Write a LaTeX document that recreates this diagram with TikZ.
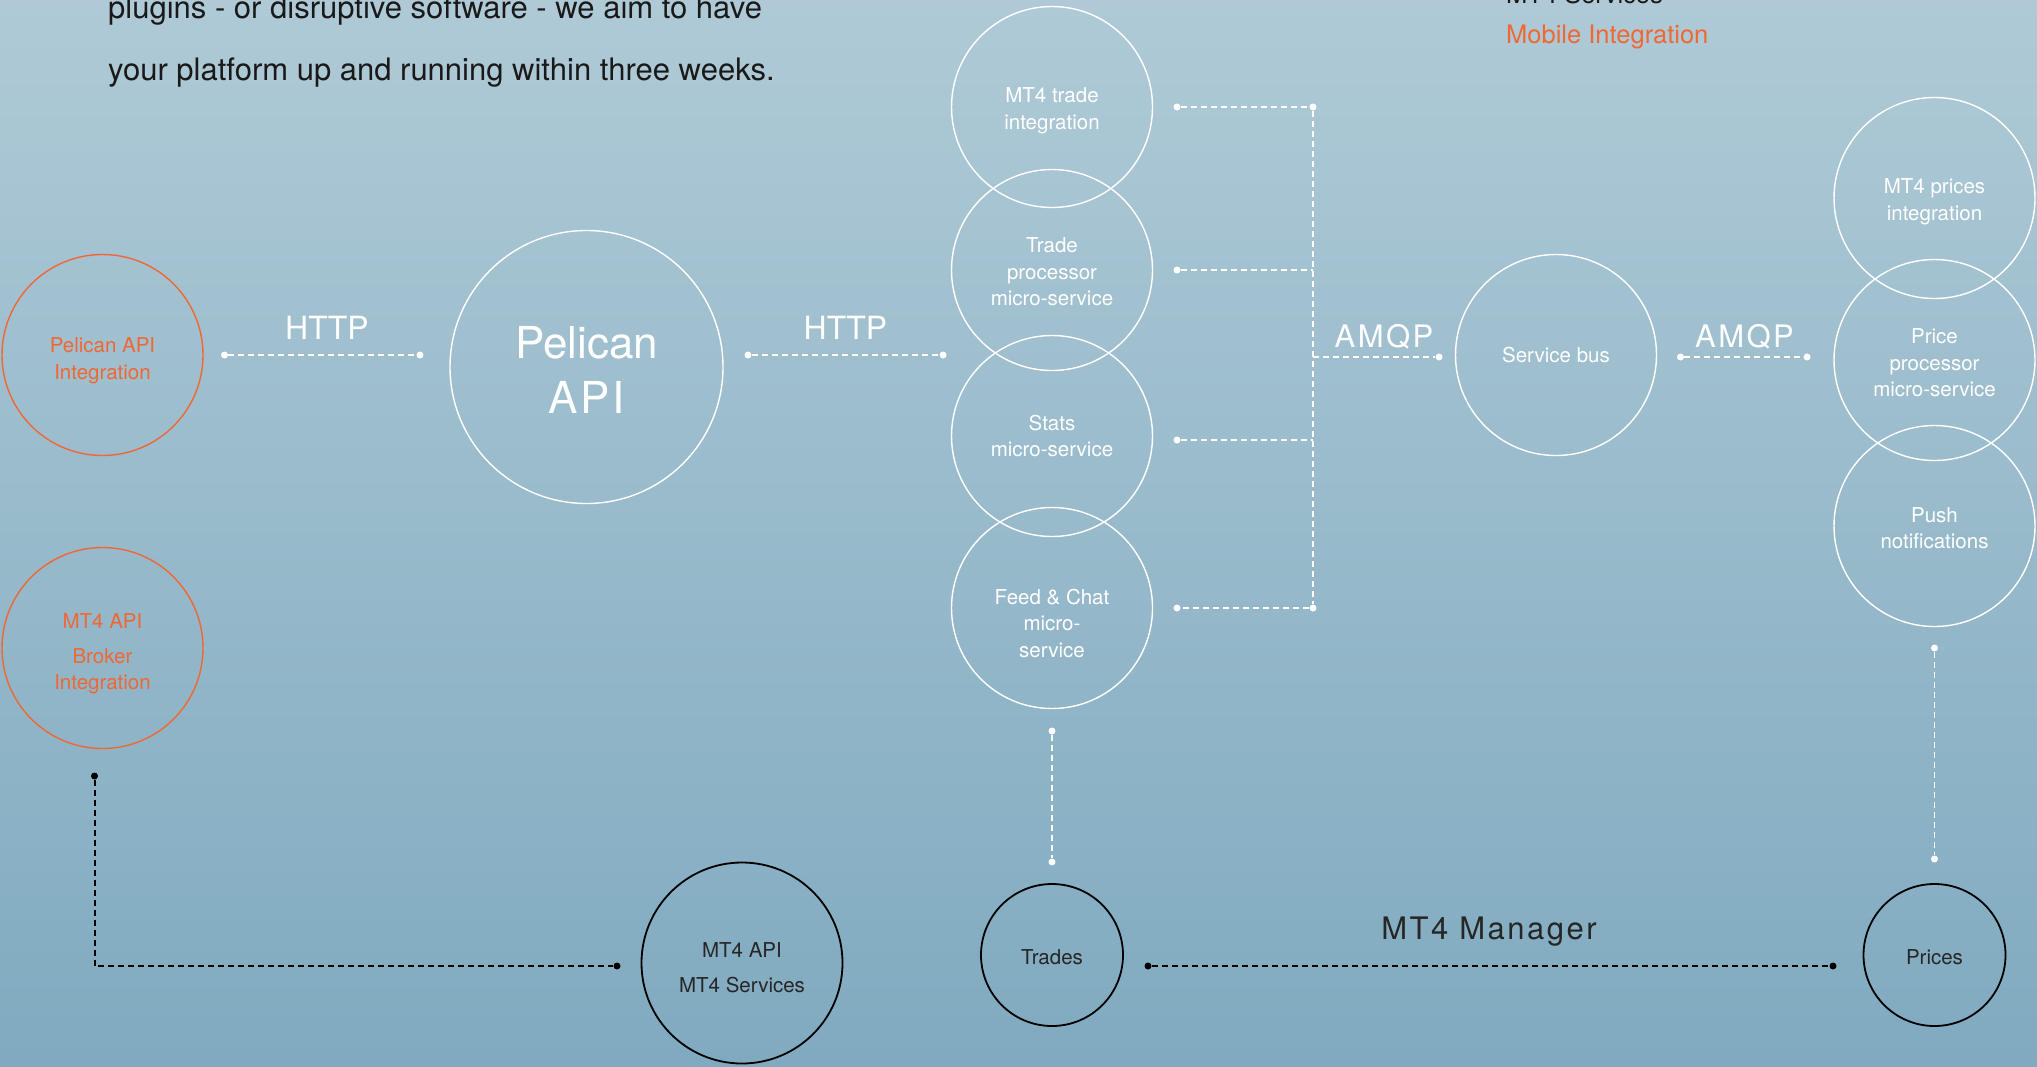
\documentclass[tikz,border=0pt]{standalone}
\usepackage{fontspec}
\setmainfont{TeX Gyre Heros}
\usepackage{tikz}
\usetikzlibrary{positioning}
\definecolor{bgtop}{RGB}{175,202,214}
\definecolor{bgbot}{RGB}{128,170,192}
\definecolor{pelorange}{RGB}{241,103,52}

\begin{document}
\begin{tikzpicture}[x=1pt,y=-1pt,
  svc/.style={circle,draw=white,line width=1.4pt,minimum size=201pt,inner sep=0pt,text=white,align=center,font=\fontsize{20.5}{26.5}\selectfont},
  ext/.style={svc,draw=pelorange,text=pelorange},
  mtf/.style={svc,draw=black,text=black!85,line width=1.8pt},
  svctxt/.style={inner sep=0pt,text=white,align=center,font=\fontsize{20.5}{26.5}\selectfont},
  wdot/.style={circle,fill=white,inner sep=0pt,minimum size=7pt},
  bdot/.style={circle,fill=black,inner sep=0pt,minimum size=7pt},
  wlink/.style={white,line width=1.4pt,dash pattern=on 6pt off 4pt},
  blink/.style={black,line width=2pt,dash pattern=on 6pt off 4pt},
  proto/.style={white,anchor=base,inner sep=0pt,font=\fontsize{31}{31}\selectfont\addfontfeature{LetterSpace=8}},
  blurb/.style={anchor=base west,inner sep=0pt,text=black!90,font=\fontsize{31}{31}\selectfont}
]
\shade[top color=bgtop,bottom color=bgbot] (0,0) rectangle (2037,1066);
\useasboundingbox (0,0) rectangle (2037,1066);

\node[blurb] (blurbtop) at (108,18) {plugins - or disruptive software - we aim to have};
\node[blurb] (blurbbot) at (108,80) {your platform up and running within three weeks.};
\node[blurb,font=\fontsize{25.5}{30}\selectfont] (mtsvc) at (1506,3) {MT4 Services};
\node[blurb,text=pelorange,font=\fontsize{25.5}{30}\selectfont] (mobint) at (1506,43) {Mobile Integration};

\node[ext] (pelint) at (102.5,355) {};
\node[svctxt,text=pelorange] (pelinttxt) at ([yshift=-6pt]pelint) {Pelican API\\Integration};
\node[ext] (brokint) at (102.5,648) {};
\node[svctxt,text=pelorange] (brokinttxt) at ([yshift=-6pt]brokint) {MT4 API\\[8pt]Broker\\Integration};
\node[svc,minimum size=273pt] (pelapi) at (586.5,367) {};
\node[svctxt,font=\fontsize{44}{55}\selectfont] (pelapitxt) at ([yshift=-3pt]pelapi) {Pelican\\{\addfontfeature{LetterSpace=6}API}};

\node[svc] (mttrade) at (1052,107) {};
\node[svctxt] (mttradetxt) at ([yshift=-4pt]mttrade) {MT4 trade\\integration};
\node[svc] (tradeproc) at (1052,270) {};
\node[svctxt] (tradeproctxt) at ([yshift=-2pt]tradeproc) {Trade\\processor\\micro-service};
\node[svc] (stats) at (1052,436) {Stats\\micro-service};
\node[svc] (feed) at (1052,608) {};
\node[svctxt] (feedtxt) at ([yshift=-15pt]feed) {Feed \& Chat\\micro-\\service};

\node[svc] (bus) at (1556,355) {Service bus};
\node[svc] (mtprices) at (1934.5,198) {};
\node[svctxt] (mtpricestxt) at ([yshift=-4pt]mtprices) {MT4 prices\\integration};
\node[svc] (priceproc) at (1934.5,360) {};
\node[svctxt] (priceproctxt) at ([yshift=-3pt]priceproc) {Price\\processor\\micro-service};
\node[svc] (push) at (1934.5,526) {};
\node[svctxt] (pushtxt) at ([yshift=-2pt]push) {Push\\notifications};

\node[mtf,minimum size=142pt] (trades) at (1052,955) {};
\node[svctxt,text=black!85] (tradestxt) at ([yshift=-2.5pt]trades) {Trades};
\node[mtf,minimum size=142pt] (prices) at (1934.5,955) {};
\node[svctxt,text=black!85] (pricestxt) at ([yshift=-2.5pt]prices) {Prices};
\node[mtf] (mtapi) at (742,963) {};
\node[svctxt,text=black!85] (mtapitxt) at ([yshift=-4.5pt]mtapi) {MT4 API\\[8pt]MT4 Services};

\node[wdot] (httpa) at (224.5,355) {};
\node[wdot] (httpb) at (420,355) {};
\draw[wlink] (httpa) -- (httpb);
\node[proto,font=\fontsize{32}{32}\selectfont] (httpone) at (327,339) {HTTP};
\node[wdot] (httpc) at (748,355) {};
\node[wdot] (httpd) at (943,355) {};
\draw[wlink] (httpc) -- (httpd);
\node[proto,font=\fontsize{32}{32}\selectfont] (httptwo) at (845.5,339) {HTTP};

\node[wdot] (tradedot) at (1177,107) {};
\node[wdot] (procdot) at (1177,270) {};
\node[wdot] (statsdot) at (1177,440) {};
\node[wdot] (feeddot) at (1177,608) {};
\node[wdot] (bustop) at (1313,107) {};
\node[wdot] (busbot) at (1313,608) {};
\coordinate (busjoin) at (1313,357);
\draw[wlink] (tradedot) -- (bustop) -- (busbot) -- (feeddot);
\draw[wlink] (procdot) -- (procdot -| bustop);
\draw[wlink] (statsdot) -- (statsdot -| bustop);
\node[wdot] (amqpa) at (1439,357) {};
\draw[wlink] (busjoin) -- (amqpa);
\node[proto] (amqpone) at (1384,347) {AMQP};
\node[wdot] (amqpb) at (1680.5,357) {};
\node[wdot] (amqpc) at (1807,357) {};
\draw[wlink] (amqpb) -- (amqpc);
\node[proto] (amqptwo) at (1744.5,347) {AMQP};

\node[wdot] (feedout) at (1052,731) {};
\node[wdot] (tradesin) at (1052,862) {};
\draw[wlink] (feedout) -- (tradesin);
\node[wdot] (pushout) at (1934.5,648) {};
\node[wdot] (pricesin) at (1934.5,859) {};
\draw[wlink] (pushout) -- (pricesin);

\node[bdot] (mgra) at (1148,966) {};
\node[bdot] (mgrb) at (1833,966) {};
\draw[blink] (mgra) -- (mgrb);
\node[proto,text=black!85] (mgr) at (1489,939) {MT4 Manager};

\node[bdot] (brokout) at (94.5,776) {};
\node[bdot] (apiin) at (617,966) {};
\draw[blink] (brokout) |- (apiin);
\end{tikzpicture}
\end{document}
